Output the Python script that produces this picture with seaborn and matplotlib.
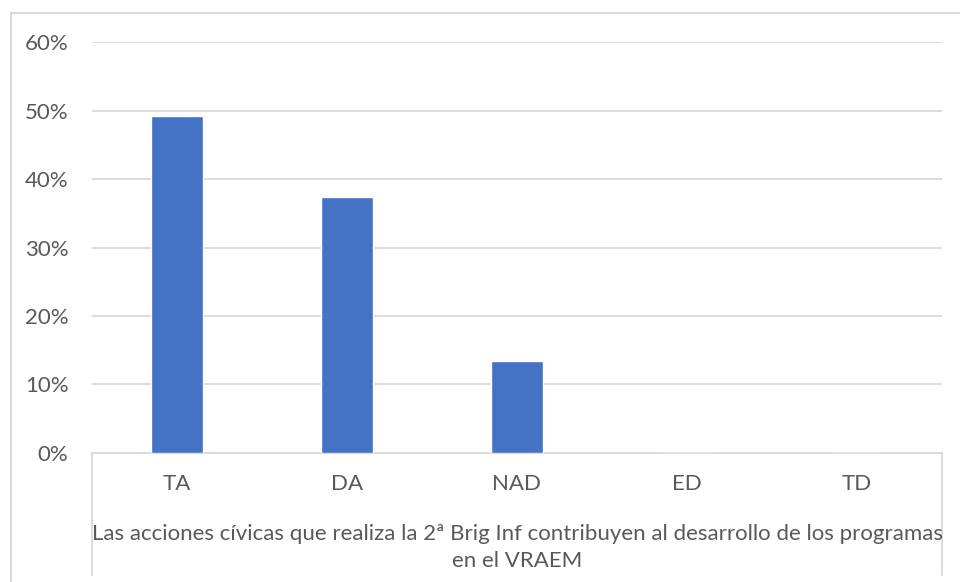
import matplotlib
matplotlib.use("Agg")
import matplotlib.pyplot as plt
from matplotlib.lines import Line2D
from matplotlib.patches import Rectangle
import seaborn as sns
import pandas as pd

categories = ["TA", "DA", "NAD", "ED", "TD"]
values = [0.4925, 0.3731, 0.1343, 0.0, 0.0]
ytick_values = [0.0, 0.1, 0.2, 0.3, 0.4, 0.5, 0.6]
ytick_labels = ["0%", "10%", "20%", "30%", "40%", "50%", "60%"]
group_label = "Las acciones cívicas que realiza la 2ª Brig Inf contribuyen al desarrollo de los programas\nen el VRAEM"

sns.set_theme(style="white")
plt.rcParams["font.family"] = ["Lato", "DejaVu Sans"]

TEXT = "#595959"
GRID = "#d9d9d9"
BAR = "#4472C4"
FS = 16

W, H = 960, 582
fig = plt.figure(figsize=(W / 100, H / 100), dpi=100)
fig.patch.set_facecolor("white")

x0, x1 = 92, 942
y_top, y_bot = 42.3, 452.7
ax = fig.add_axes([x0 / W, 1 - y_bot / H, (x1 - x0) / W, (y_bot - y_top) / H])

df = pd.DataFrame({"cat": categories, "val": values})
sns.barplot(data=df, x="cat", y="val", color=BAR, width=0.31, saturation=1,
            ax=ax, zorder=3)

ax.set_ylim(0, 0.6)
ax.set_xlim(-0.5, 4.5)
ax.set_yticks(ytick_values)
ax.set_yticklabels(ytick_labels)
ax.yaxis.grid(True, color=GRID, linewidth=1.3, zorder=0)
ax.set_axisbelow(True)
for s in ["top", "right", "left"]:
    ax.spines[s].set_visible(False)
ax.spines["bottom"].set_color(GRID)
ax.spines["bottom"].set_linewidth(1.3)
ax.tick_params(axis="y", length=0, pad=17, labelsize=FS, labelcolor=TEXT)
ax.tick_params(axis="x", length=0, pad=15, labelsize=FS, labelcolor=TEXT)
ax.set_xlabel("")
ax.set_ylabel("")

# category box vertical lines
for xp in (x0, x1):
    fig.add_artist(Line2D([xp / W, xp / W], [1 - y_bot / H, 1 - 575 / H],
                          color=GRID, linewidth=1.3, transform=fig.transFigure))

# outer chart border (extends beyond image right/bottom)
fig.add_artist(Rectangle((11 / W, -0.05), 1.2, 1 - 13 / H + 0.05, fill=False,
                         edgecolor=GRID, linewidth=1.5, transform=fig.transFigure))

fig.text((x0 + x1) / 2 / W, 1 - 547.5 / H, group_label, ha="center", va="center",
         fontsize=FS, color=TEXT, linespacing=1.4)

fig.savefig("out.png", dpi=100, facecolor="white")
